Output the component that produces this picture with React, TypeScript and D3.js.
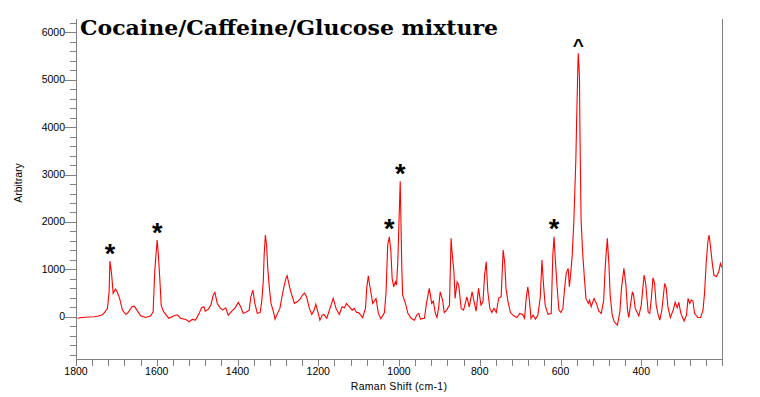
import React from 'react';
import * as d3 from 'd3';

// Raman shift (cm-1) and intensity
const shift = [1797,1785,1770,1755,1745,1736,1731,1722,1718,1716,1712,1708,1702,1698,1692,1685,1677,1673,1661,1656,1652,1640,1627,1615,1609,1605,1601,1599,1596,1592,1589,1584,1578,1570,1557,1549,1541,1528,1520,1512,1504,1495,1489,1483,1480,1472,1466,1460,1456,1450,1443,1437,1429,1423,1414,1406,1398,1392,1386,1377,1371,1367,1362,1357,1351,1344,1340,1336,1334,1331,1328,1325,1321,1317,1311,1307,1301,1295,1290,1285,1280,1277,1272,1268,1264,1259,1252,1245,1239,1234,1229,1222,1216,1210,1206,1200,1196,1190,1186,1179,1171,1163,1156,1148,1141,1135,1130,1123,1116,1111,1105,1100,1090,1083,1080,1076,1072,1065,1057,1051,1045,1036,1032,1028,1024,1020,1017,1013,1009,1006,1003,997,993,991,984,978,970,962,956,951,947,937,932,925,919,915,910,906,902,898,892,888,882,875,871,869,864,861,856,852,846,840,832,826,819,814,809,803,797,792,788,784,780,775,770,765,759,753,747,742,738,735,730,724,716,708,701,694,689,685,681,677,673,668,662,656,650,646,642,638,631,623,619,616,613,609,604,599,594,591,586,581,578,575,571,567,562,560,557,556,553,552,549,545,541,537,531,528,524,517,511,505,499,493,489,484,480,477,472,467,459,453,449,443,438,434,431,426,422,419,415,406,400,393,389,383,379,375,371,367,363,359,354,349,342,338,334,328,321,316,311,307,302,294,288,284,280,276,272,268,260,253,247,243,239,235,232,228,224,220,214,208,204,200];
const intensity = [-30,-15,-5,0,15,40,72,177,527,1175,915,494,584,527,388,141,51,70,211,225,177,21,-15,21,105,950,1407,1618,1302,738,247,120,51,-30,21,42,-30,-55,-105,-55,-70,72,190,211,120,162,247,458,514,282,190,141,190,36,120,190,303,211,72,105,141,422,563,282,72,90,316,774,1302,1724,1513,1021,599,282,105,-49,72,177,422,633,810,865,669,527,422,282,316,373,458,500,422,177,51,141,268,72,-70,36,51,-30,177,388,177,51,211,190,282,211,141,177,90,90,-15,177,599,865,633,282,388,72,-40,90,527,1513,1688,1371,810,633,738,669,1160,2860,1021,458,282,72,-30,-70,36,72,-49,-30,282,599,282,330,72,-15,177,527,352,90,141,247,1654,1407,950,388,738,669,177,141,422,211,527,316,120,599,247,316,880,1160,527,177,90,177,90,401,422,1407,1125,599,316,90,21,-15,72,51,-30,388,633,352,-40,36,-49,36,422,1196,669,247,51,72,1302,1688,1230,703,141,90,177,492,915,1020,633,880,1300,2000,3306,4150,5274,5557,5063,4008,2040,1337,844,388,282,352,211,388,282,120,72,352,1090,1654,1090,458,36,-105,-175,105,599,1021,669,141,-15,282,527,458,177,21,247,880,703,105,72,388,823,703,247,72,-70,141,703,599,211,-15,141,303,190,303,72,-90,36,388,282,352,330,72,-15,-15,141,527,1160,1583,1724,1442,1125,880,844,950,1125,1040];

const xLabels = [1800, 1600, 1400, 1200, 1000, 800, 600, 400];
const yLabels = [0, 1000, 2000, 3000, 4000, 5000, 6000];

// peak markers: [shift, intensity above which the marker sits, symbol]
const markShift = [1716, 1599, 1024, 997, 616, 556];
const markLevel = [1175, 1618, 1688, 2860, 1688, 5557];
const markSymbol = ['*', '*', '*', '*', '*', '^'];

const W = 760, H = 397;
const left = 76, right = 722, top = 19, bottom = 359;
const axisColor = '#808080';
const sans = 'Arial, "Liberation Sans", sans-serif';

export default function App() {
  const x = d3.scaleLinear().domain([1800, 200]).range([left, right]);
  const y = d3.scaleLinear().domain([-890, 6280]).range([bottom, top]);

  const pts: [number, number][] = shift.map((s, i) => [s, intensity[i]]);
  const line = d3.line<[number, number]>()
    .x(d => x(d[0]))
    .y(d => y(d[1]));

  const xMinor = d3.range(1800, 199, -40);
  const yMinor = d3.range(-800, 6201, 200);

  return (
    <svg width={W} height={H} style={{position: 'absolute', left: 0, top: 0, background: '#fff'}}>
      <rect x={0} y={0} width={W} height={H} fill="#fff" />

      {/* curve */}
      <path d={line(pts)!} fill="none" stroke="#ff0000" strokeWidth={1.1} />

      {/* axes */}
      <g shapeRendering="crispEdges" stroke={axisColor} strokeWidth={1}>
        <line x1={left} x2={left} y1={top} y2={bottom} />
        <line x1={left} x2={right} y1={bottom} y2={bottom} />
        <line x1={right} x2={right} y1={top} y2={bottom} />
        {yMinor.map(v => (
          <line key={'y' + v} x1={v % 1000 === 0 ? left - 11 : left - 6} x2={left} y1={Math.round(y(v)) + 0.5} y2={Math.round(y(v)) + 0.5} />
        ))}
        {xMinor.map(v => (
          <line key={'x' + v} x1={Math.round(x(v)) + 0.5} x2={Math.round(x(v)) + 0.5} y1={bottom} y2={bottom + 7} />
        ))}
      </g>

      {yLabels.map(v => (
        <text key={'yl' + v} x={65} y={y(v) + 3.5} textAnchor="end" fontFamily={sans} fontSize={10.5} fill="#000">{v}</text>
      ))}
      {xLabels.map(v => (
        <text key={'xl' + v} x={x(v)} y={375} textAnchor="middle" fontFamily={sans} fontSize={10.5} fill="#000">{v}</text>
      ))}

      <text x={399} y={390} textAnchor="middle" fontFamily={sans} fontSize={10.5} letterSpacing={0.3} fill="#000">Raman Shift (cm-1)</text>
      <text transform="translate(22,183) rotate(-90)" textAnchor="middle" fontFamily={sans} fontSize={10.5} fill="#000">Arbitrary</text>

      <text x={80} y={34.5} fontFamily='"DejaVu Serif", serif' fontWeight="bold" fontSize={20} textLength={418} lengthAdjust="spacingAndGlyphs" fill="#000">Cocaine/Caffeine/Glucose mixture</text>

      {markShift.map((s, i) => (
        markSymbol[i] === '*'
          ? <text key={'m' + i} x={x(s)} y={y(markLevel[i]) - 13.5 + 15} textAnchor="middle" fontFamily={sans} fontWeight="bold" fontSize={27} fill="#000">*</text>
          : <text key={'m' + i} x={x(s)} y={y(markLevel[i]) - 11.5 + 10.5} textAnchor="middle" fontFamily={sans} fontWeight="bold" fontSize={19} fill="#000">^</text>
      ))}
    </svg>
  );
}
